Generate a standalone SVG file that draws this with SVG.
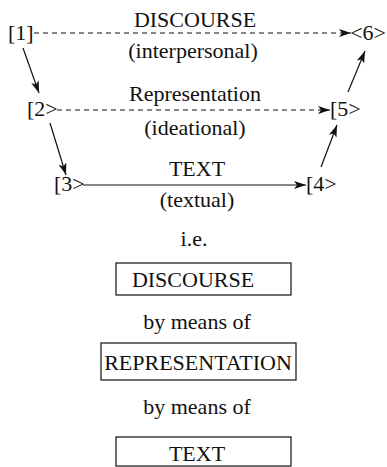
<svg xmlns="http://www.w3.org/2000/svg" width="387" height="467" viewBox="0 0 387 467">
  <style>
    text { font-family: "Liberation Serif", "Times New Roman", serif; font-size: 22px; fill: #111; }
    .mid { text-anchor: middle; }
    .end { text-anchor: end; }
    .link { stroke: #111; stroke-width: 1.2; fill: none; }
    .dash { stroke-dasharray: 5 4; }
    .box { fill: #fff; stroke: #111; stroke-width: 1.2; }
  </style>
  <defs>
    <marker id="head" viewBox="0 0 12 8" refX="12" refY="4" markerWidth="12" markerHeight="8" markerUnits="userSpaceOnUse" orient="auto">
      <path d="M0,0 L12,4 L0,8 L3,4 z" fill="#111"/>
    </marker>
  </defs>

  <!-- connectors -->
  <g id="connectors">
    <path class="link dash" d="M34,33 H351" marker-end="url(#head)"/>
    <path class="link dash" d="M57,110 H330" marker-end="url(#head)"/>
    <path class="link" d="M83,185 H306" marker-end="url(#head)"/>
    <path class="link" d="M23,48 L39,93" marker-end="url(#head)"/>
    <path class="link" d="M50,123 L66,175" marker-end="url(#head)"/>
    <path class="link" d="M321,167 L337,125" marker-end="url(#head)"/>
    <path class="link" d="M348,92 L365,51" marker-end="url(#head)"/>
  </g>

  <!-- connector labels -->
  <g id="labels">
    <text class="mid" x="195" y="27">DISCOURSE</text>
    <text class="mid" x="193" y="58">(interpersonal)</text>
    <text class="mid" x="195" y="101">Representation</text>
    <text class="mid" x="195" y="135">(ideational)</text>
    <text class="mid" x="197" y="176">TEXT</text>
    <text class="mid" x="197" y="207">(textual)</text>
  </g>

  <!-- stage nodes -->
  <g id="n1"><text x="8" y="40">[1]</text></g>
  <g id="n2"><text x="27" y="116">[2&gt;</text></g>
  <g id="n3"><text x="54" y="191">[3&gt;</text></g>
  <g id="n4"><text x="306" y="191">[4&gt;</text></g>
  <g id="n5"><text x="330" y="116">[5&gt;</text></g>
  <g id="n6"><text class="end" x="386" y="40">&lt;6&gt;</text></g>

  <!-- summary stack -->
  <g id="ie"><text class="mid" x="194" y="246">i.e.</text></g>
  <g id="discourse">
    <rect class="box" x="116" y="263" width="175" height="32"/>
    <text class="mid" x="193" y="287">DISCOURSE</text>
  </g>
  <g id="means1"><text class="mid" x="197" y="329">by means of</text></g>
  <g id="representation">
    <rect class="box" x="101" y="343" width="195" height="37"/>
    <text class="mid" x="198" y="370">REPRESENTATION</text>
  </g>
  <g id="means2"><text class="mid" x="197" y="414">by means of</text></g>
  <g id="text">
    <rect class="box" x="116" y="437" width="175" height="29"/>
    <text class="mid" x="197" y="461">TEXT</text>
  </g>
</svg>
